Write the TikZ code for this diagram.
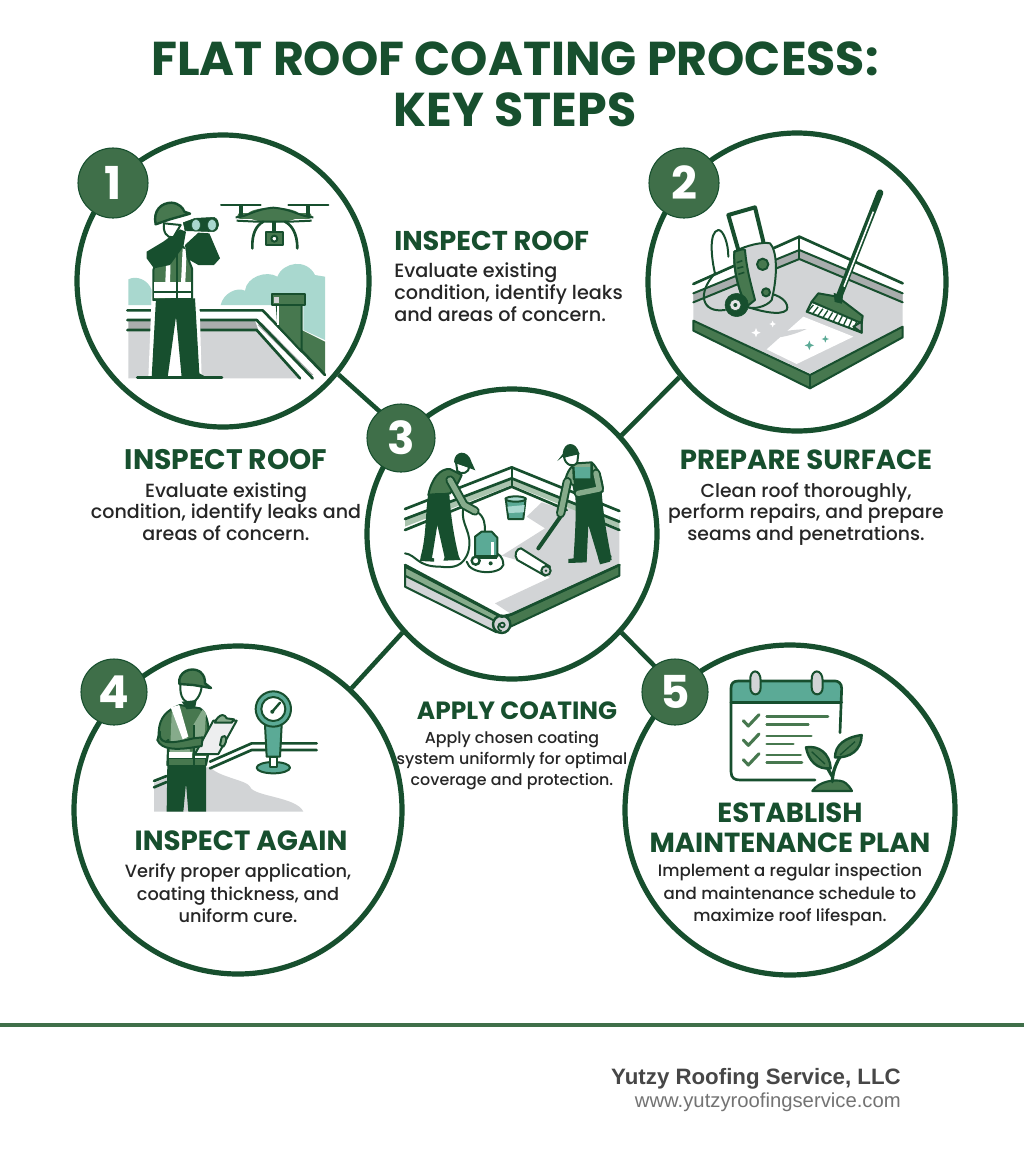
\documentclass[tikz,border=0pt]{standalone}
\usepackage{fontspec}
\setmainfont{Poppins}
\newfontfamily\bodyf{Poppins Medium}
\newfontfamily\footf{Liberation Sans}
\usetikzlibrary{calc}
\definecolor{dkg}{HTML}{174F2E}
\definecolor{mdg}{HTML}{47784F}
\definecolor{ltg}{HTML}{86AB8B}
\definecolor{bdg}{HTML}{3F6F49}
\definecolor{teal}{HTML}{5BAA96}
\definecolor{ltt}{HTML}{A9D8CF}
\definecolor{gry}{HTML}{D2D4D6}
\definecolor{mgy}{HTML}{A9ADAD}
\definecolor{sep}{HTML}{3F6F49}
\tikzset{
 ring/.style={circle,draw=dkg,line width=3.9pt,fill=white,inner sep=0pt},
 badge/.style={circle,fill=bdg,draw=dkg,line width=0.8pt,inner sep=0pt,minimum size=#1,text=white,font=\bfseries\fontsize{34}{34}\selectfont},
 link/.style={draw=dkg,line width=3.4pt},
 head/.style={text=dkg,font=\bfseries\fontsize{#1}{22}\selectfont,inner sep=0pt,text height=14pt,text depth=0pt,yshift=-0.7pt},
 body/.style={text=black!85,font=\bodyf\fontsize{#1}{16}\selectfont,inner sep=0pt,text height=10pt,text depth=3pt,yshift=-1.5pt},
 ink/.style={draw=dkg,line width=2pt,line join=round,line cap=round},
 thin/.style={draw=dkg,line width=1.5pt,line join=round,line cap=round},
 zoomed/.style={x=0.25pt,y=-0.25pt},
}
\begin{document}
\begin{tikzpicture}[x=0.75pt,y=-0.75pt]
\useasboundingbox (0,0) rectangle (1024,1154);
\fill[white] (0,0) rectangle (1024,1154);
% title
\node[text=dkg,font=\bfseries\fontsize{35.6}{36}\selectfont,inner sep=0pt] (t1) at (515,59) {FLAT ROOF COATING PROCESS:};
\node[text=dkg,font=\bfseries\fontsize{35.6}{36}\selectfont,inner sep=0pt] (t2) at (515,110) {KEY STEPS};
% rings
\node[ring,minimum size=292pt*0.75] (c1) at (223,281) {};
\node[ring,minimum size=298pt*0.75] (c2) at (797,282) {};
\node[ring,minimum size=290pt*0.75] (c3) at (512,534) {};
\node[ring,minimum size=328pt*0.75] (c4) at (238,810) {};
\node[ring,minimum size=330pt*0.75] (c5) at (790,810) {};
% links
\draw[link] (c1.-39.4) -- (c3.137);
\draw[link] (c2.219) -- (c3.42);
\draw[link] (c3.222) -- (c4.47);
\draw[link] (c3.-42) -- (c5.133);
% ILLUSTRATION 1
\begin{scope}[shift={(70,130)},zoomed]
\fill[ltt] (175,525) -- (175,448) .. controls (200,435) and (235,450) .. (245,480) -- (245,525) -- cycle;
\fill[ltt] (452,525) .. controls (460,490) and (500,470) .. (525,482) .. controls (530,440) and (590,420) .. (622,440) .. controls (640,395) and (710,385) .. (735,435) -- (765,440) -- (765,630) -- (700,600) -- (700,525) -- cycle;
\fill[gry] (175,600) -- (565,600) -- (695,745) -- (175,745) -- cycle;
\fill[mgy] (175,572) -- (555,572) -- (565,600) -- (175,600) -- cycle;
\fill[white] (172,545) rectangle (575,568);
\fill[mdg] (695,600) -- (765,635) -- (765,735) -- (695,665) -- cycle;
\fill[white] (578,541) -- (765,735) -- (728,745) -- (560,570) -- cycle;
\fill[mgy] (563,585) -- (575,578) -- (730,735) -- (715,735) -- cycle;
\draw[ink] (172,541) -- (578,541) -- (765,735);
\draw[ink] (172,570) -- (560,570) -- (728,745);
\draw[ink] (172,600) -- (560,600) -- (690,745);
\filldraw[fill=mdg,thin] (620,520) -- (695,520) -- (695,665) -- (625,590) -- cycle;
\filldraw[fill=mdg,thin] (605,493) rectangle (706,524);
\fill[gry] (612,500) rectangle (628,518);
\draw[white,line width=1.6pt] (625,527) -- (625,585);
% person
\fill[white] (245,500) -- (388,500) -- (395,745) -- (235,745) -- cycle;
\fill[dkg] (258,505) -- (375,505) -- (388,730) -- (410,742) -- (335,742) -- (318,560) -- (293,742) -- (245,742) -- cycle;
\draw[dkg,line width=2.2pt,line cap=round] (202,743) -- (456,743);
\filldraw[fill=mdg,thin] (250,420) -- (272,352) -- (340,350) -- (366,415) -- (366,505) -- (250,510) -- cycle;
\fill[white] (252,456) rectangle (364,482);
\fill[dkg] (252,482) rectangle (364,488);
\fill[white] (252,490) rectangle (364,504);
\fill[white] (290,355) -- (302,355) -- (300,480) -- (285,480) -- cycle;
\fill[white] (338,355) -- (350,360) -- (345,480) -- (332,480) -- cycle;
\draw[dkg,line width=1.5pt] (320,370) -- (320,505);
\fill[dkg] (230,365) -- (280,335) -- (330,298) -- (348,305) -- (340,350) -- (300,405) -- (252,415) -- (230,385) -- cycle;
\fill[dkg] (345,345) -- (385,308) -- (418,310) -- (450,385) -- (432,405) -- (385,405) -- (350,385) -- cycle;
\filldraw[fill=white,thin] (282,280) .. controls (278,305) and (290,325) .. (310,322) -- (332,285) -- cycle;
\filldraw[fill=mdg,draw=dkg,line width=1.8pt,line join=round] (257,283) .. controls (248,240) and (275,218) .. (305,218) .. controls (328,220) and (340,235) .. (343,245) -- (360,251) -- (300,268) -- cycle;
\filldraw[fill=dkg,draw=dkg,line join=round] (340,278) -- (375,265) -- (432,262) .. controls (452,270) and (450,300) .. (430,305) -- (345,302) -- cycle;
\filldraw[fill=ltt,draw=dkg] (378,285) ellipse (13 and 18);
\filldraw[fill=ltt,draw=dkg] (426,285) ellipse (13 and 18);
% drone
\fill[mdg] (610,255) ellipse (78 and 22);
\draw[mdg,line width=5pt,line cap=round] (512,258) -- (715,258);
\draw[dkg,line width=1.5pt,line join=round] (497,262) .. controls (530,262) and (550,238) .. (610,233) .. controls (670,238) and (695,262) .. (730,262);
\draw[dkg,line width=1.5pt] (500,272) -- (560,275) -- (660,275) -- (725,272);
\draw[dkg,line width=1.5pt,line cap=round] (453,224) -- (572,224) (655,224) -- (775,224);
\draw[dkg,line width=3pt] (512,224) -- (512,258) (715,224) -- (715,258);
\draw[dkg,line width=2pt,line cap=round] (547,355) .. controls (545,310) and (560,285) .. (580,275) (682,355) .. controls (682,310) and (665,285) .. (645,275);
\filldraw[fill=mdg,thin] (587,305) rectangle (640,346);
\filldraw[fill=white,draw=dkg,line width=1.5pt] (613,326) circle (9);
\draw[dkg,line width=2.5pt] (612,275) -- (612,305);
\end{scope}
% ILLUSTRATION 2
\begin{scope}[shift={(640,130)},zoomed]
\fill[gry] (160,570) -- (160,490) -- (478,360) -- (788,490) -- (788,590) -- (510,730) -- cycle;
\fill[white] (380,658) -- (490,560) -- (640,620) -- (470,702) -- cycle;
\fill[gry] (380,625) .. controls (420,600) and (460,600) .. (500,597) .. controls (460,615) and (420,625) .. (380,625) -- cycle;
\filldraw[fill=mdg,thin] (160,572) -- (510,735) -- (788,590) -- (788,622) -- (510,775) -- (160,602) -- cycle;
\draw[thin] (510,735) -- (510,775);
\fill[white] (160,465) -- (478,322) -- (788,462) -- (788,490) -- (478,360) -- (160,490) -- cycle;
\fill[mgy] (160,490) -- (478,360) -- (478,385) -- (160,515) -- cycle;
\fill[mgy] (478,360) -- (788,490) -- (788,515) -- (478,385) -- cycle;
\draw[ink] (160,462) -- (478,320) -- (788,460);
\draw[thin] (160,490) -- (478,360) -- (788,490);
\draw[thin] (160,517) -- (478,387) -- (788,517);
\draw[thin] (478,320) -- (478,387);
% washer
\draw[thin] (265,380) .. controls (265,340) and (250,300) .. (235,300) .. controls (205,305) and (215,390) .. (225,430) .. controls (170,490) and (185,550) .. (255,540);
\draw[thin] (375,490) .. controls (420,490) and (450,520) .. (440,540) .. controls (420,560) and (350,540) .. (320,530);
\draw[dkg,line width=3pt,line join=round,line cap=round] (295,360) -- (265,255) -- (345,232) -- (370,335);
\filldraw[fill=gry,thin] (283,365) .. controls (320,345) and (370,335) .. (390,340) .. controls (410,360) and (415,430) .. (395,510) .. controls (380,530) and (340,540) .. (320,530) .. controls (295,480) and (280,420) .. (283,365) -- cycle;
\filldraw[fill=mdg,thin] (283,365) .. controls (300,360) and (310,355) .. (315,360) .. controls (320,420) and (335,470) .. (345,510) -- (320,530) .. controls (295,480) and (280,420) .. (283,365) -- cycle;
\draw[dkg,line width=1.2pt] (290,398) -- (307,392) (292,415) -- (310,410) (295,433) -- (313,427);
\filldraw[fill=mdg,thin] (368,403) circle (17);
\filldraw[fill=mdg,thin] (378,487) circle (12);
\filldraw[fill=dkg,draw=dkg] (290,525) circle (35);
\filldraw[fill=gry!60,draw=dkg] (286,525) circle (17);
\fill[dkg] (286,525) circle (6);
% broom
\draw[dkg,line width=5pt,line cap=round] (720,188) -- (597,500);
\draw[white,line width=1.2pt] (700,245) -- (612,470);
\filldraw[fill=white,thin] (500,545) -- (515,515) -- (665,575) -- (665,608) -- cycle;
\foreach \i in {0,...,9}{\draw[dkg,line width=1pt] ($(503,545)!\i/9!(640,600)$) -- ($(520,525)!\i/9!(650,575)$);}
\filldraw[fill=mdg,thin] (515,515) -- (535,490) -- (592,500) -- (668,558) -- (665,580) -- cycle;
\filldraw[fill=dkg,draw=dkg] (582,490) -- (608,498) -- (605,520) -- (585,515) -- cycle;
\filldraw[fill=mgy,thin] (640,590) -- (665,575) -- (665,608) -- cycle;
\fill[white] (348,594) -- (352,604) -- (362,608) -- (352,612) -- (348,622) -- (344,612) -- (334,608) -- (344,604) -- cycle;
\fill[white] (398,572) -- (401,579) -- (408,582) -- (401,585) -- (398,592) -- (395,585) -- (388,582) -- (395,579) -- cycle;
\fill[teal] (508,632) -- (512,642) -- (522,646) -- (512,650) -- (508,660) -- (504,650) -- (494,646) -- (504,642) -- cycle;
\fill[teal] (556,616) -- (559,624) -- (567,627) -- (559,630) -- (556,638) -- (553,630) -- (545,627) -- (553,624) -- cycle;
\end{scope}
% ILLUSTRATION 3
\begin{scope}[shift={(360,385)},zoomed]
\fill[gry] (500,395) -- (545,352) -- (615,375) -- (640,360) -- (778,440) -- (778,540) -- (455,688) -- (405,655) -- (570,578) -- (470,525) -- (425,512) -- (555,430) -- cycle;
% back wall
\fill[ltg!70] (135,385) -- (455,262) -- (778,395) -- (778,430) -- (455,300) -- (135,425) -- cycle;
\fill[white] (135,380) -- (455,255) -- (778,388) -- (778,405) -- (455,278) -- (135,398) -- cycle;
\draw[ink] (135,372) -- (455,247) -- (778,378);
\draw[ink] (135,402) -- (455,280) -- (778,410);
\draw[ink] (135,435) -- (455,305) -- (620,375) (730,415) -- (778,435);
\draw[thin] (455,247) -- (455,305);
% front roll
\filldraw[fill=gry,thin] (135,570) -- (405,705) -- (410,742) -- (135,605) -- cycle;
\filldraw[fill=ltg,thin] (135,545) -- (415,692) -- (405,708) -- (135,572) -- cycle;
\filldraw[fill=mdg,thin] (440,695) -- (778,540) -- (778,572) -- (445,728) -- cycle;
\filldraw[fill=gry,draw=dkg,line width=1.8pt] (425,718) circle (26);
\draw[dkg,line width=1.3pt] (420,720) arc (180:-90:7) arc (-90:-260:13);
\draw[ink] (135,540) -- (425,695) -- (455,688) -- (778,540);
% bucket
\filldraw[fill=teal,thin] (437,340) -- (497,340) -- (490,402) -- (445,402) -- cycle;
\fill[ltt] (442,365) -- (494,360) -- (491,382) -- (446,384) -- cycle;
\filldraw[fill=ltt,thin] (467,342) ellipse (30 and 8);
% vacuum & hoses
\draw[thin] (135,505) .. controls (170,510) and (170,545) .. (240,545) .. controls (280,550) and (310,545) .. (325,500) .. controls (340,440) and (300,420) .. (310,370);
\draw[thin] (350,380) .. controls (375,395) and (375,420) .. (375,440);
\draw[thin] (320,530) .. controls (330,570) and (420,570) .. (430,540) .. controls (430,515) and (415,505) .. (405,505);
\filldraw[fill=teal,thin] (345,455) -- (365,440) -- (395,440) -- (412,458) -- (412,515) -- (345,515) -- cycle;
\fill[white] (392,470) rectangle (402,510);
\fill[dkg] (345,510) rectangle (412,522);
\filldraw[fill=white,draw=dkg,line width=1.8pt] (347,527) circle (12);
\fill[dkg] (392,535) circle (6);
% left worker
\fill[dkg] (205,325) -- (268,325) .. controls (272,400) and (285,470) .. (298,520) -- (255,522) -- (232,420) -- (215,525) -- (182,515) .. controls (200,450) and (195,390) .. (205,325) -- cycle;
\filldraw[fill=mdg,thin] (205,330) .. controls (215,280) and (240,250) .. (270,252) -- (305,270) .. controls (295,295) and (285,310) .. (270,325) .. controls (250,330) and (225,325) .. (205,330) -- cycle;
\draw[dkg,line width=7pt,line cap=round,line join=round] (270,285) -- (312,360) -- (345,378);
\draw[ltg,line width=4pt,line cap=round,line join=round] (270,285) -- (312,360) -- (345,378);
\filldraw[fill=white,thin] (288,232) -- (328,245) .. controls (328,262) and (305,272) .. (292,258) -- cycle;
\fill[dkg] (282,232) .. controls (282,195) and (325,192) .. (335,232) -- (346,256) -- cycle;
\fill[dkg] (182,515) -- (222,520) -- (222,530) -- (180,528) -- cycle;
\fill[dkg] (255,515) -- (295,512) -- (302,525) -- (250,527) -- cycle;
% roller
\draw[dkg,line width=3pt,line cap=round] (605,390) -- (535,490);
\filldraw[fill=white,thin] (483,490) -- (570,545) -- (555,572) -- (472,525) .. controls (460,510) and (470,490) .. (483,490) -- cycle;
\filldraw[fill=gry,thin] (558,557) circle (14);
\fill[dkg] (558,557) circle (4);
% right worker
\fill[dkg] (645,320) -- (725,318) .. controls (730,400) and (745,470) .. (755,525) -- (718,530) -- (685,420) -- (680,528) -- (640,528) .. controls (645,450) and (650,380) .. (645,320) -- cycle;
\filldraw[fill=ltg,thin] (615,290) .. controls (620,260) and (635,240) .. (650,235) -- (695,232) .. controls (715,250) and (730,290) .. (728,320) -- (645,325) -- (640,300) -- cycle;
\fill[teal] (640,245) rectangle (692,282);
\fill[dkg] (640,280) -- (700,280) -- (708,325) -- (645,325) -- cycle;
\draw[dkg,line width=1.8pt] (640,245) -- (642,285) (695,232) -- (695,285);
\draw[dkg,line width=7pt,line cap=round,line join=round] (622,290) -- (602,385);
\draw[ltg,line width=4pt,line cap=round,line join=round] (622,290) -- (602,385);
\draw[dkg,line width=7pt,line cap=round,line join=round] (708,265) -- (718,312) -- (655,325);
\draw[ltg,line width=4pt,line cap=round,line join=round] (708,265) -- (718,312) -- (655,325);
\filldraw[fill=white,thin] (612,215) .. controls (615,240) and (640,250) .. (652,232) -- (655,205) -- cycle;
\fill[dkg] (608,207) .. controls (610,168) and (650,166) .. (658,207) -- (610,214) -- (592,228) -- cycle;
\fill[dkg] (625,522) -- (680,515) -- (680,532) -- (625,534) -- cycle;
\fill[dkg] (715,520) -- (755,512) -- (750,530) -- (720,538) -- cycle;
\end{scope}
% ILLUSTRATION 4
\begin{scope}[shift={(80,650)},zoomed]
\fill[gry] (222,400) -- (265,380) -- (390,350) .. controls (410,380) and (500,390) .. (510,410) .. controls (520,440) and (650,440) .. (670,485) -- (222,485) -- cycle;
\draw[ink] (222,393) -- (260,378);
\draw[ink] (222,412) -- (260,396);
\draw[ink] (390,335) -- (515,280) -- (710,280);
\draw[ink] (390,355) -- (515,300) -- (710,300);
\fill[dkg] (262,340) -- (378,340) -- (378,485) -- (325,485) -- (318,400) -- (310,485) -- (260,485) -- cycle;
\filldraw[fill=mdg,thin] (238,230) .. controls (245,190) and (275,175) .. (300,165) -- (360,175) .. controls (385,190) and (390,240) .. (385,310) -- (378,345) -- (262,345) -- (265,270) .. controls (245,290) and (230,280) .. (238,230) -- cycle;
\fill[ltg] (275,190) -- (298,170) -- (320,255) -- (330,305) -- (345,305) -- (340,225) -- (368,178) -- (378,190) -- (370,310) -- (270,310) -- cycle;
\fill[white] (272,172) -- (298,165) -- (325,260) -- (308,268) -- cycle;
\fill[white] (268,306) rectangle (336,323);
\fill[white] (345,318) rectangle (378,330);
\fill[dkg] (262,323) rectangle (378,345);
\fill[mdg] (268,328) rectangle (375,345);
\draw[dkg,line width=1.5pt] (342,225) -- (342,345);
\filldraw[fill=white,thin] (302,95) -- (365,105) .. controls (365,135) and (345,160) .. (330,158) .. controls (305,155) and (298,130) .. (302,95) -- cycle;
\fill[dkg] (305,155) -- (350,150) -- (345,175) -- (320,178) -- cycle;
\filldraw[fill=mdg,draw=dkg,line width=1.8pt,line join=round] (298,102) .. controls (292,65) and (335,48) .. (360,65) .. controls (372,75) and (375,85) .. (375,100) -- (393,114) -- (340,105) -- cycle;
\filldraw[fill=gry!40,thin] (400,212) -- (470,212) -- (415,312) -- (345,312) -- cycle;
\filldraw[fill=ltg,thin] (408,210) .. controls (415,200) and (425,190) .. (435,198) -- (440,205) -- (462,208) -- (455,218) -- (405,218) -- cycle;
\filldraw[fill=mdg,thin] (240,245) .. controls (235,280) and (260,285) .. (340,265) -- (368,262) -- (365,288) -- (340,292) .. controls (290,300) and (245,300) .. (232,270) -- cycle;
\filldraw[fill=ltg,thin] (425,262) .. controls (440,250) and (445,270) .. (430,290) -- (420,285) -- cycle;
% gauge
\filldraw[fill=teal,thin] (580,353) ellipse (50 and 17);
\filldraw[fill=white,thin] (570,322) rectangle (590,352);
\filldraw[fill=teal,thin] (555,225) -- (605,225) -- (600,320) -- (560,320) -- cycle;
\filldraw[fill=teal,thin] (580,177) circle (53);
\filldraw[fill=white,thin] (580,177) circle (36);
\draw[dkg,line width=1.8pt,line cap=round] (575,187) -- (600,158);
\fill[dkg] (577,185) circle (6);
\end{scope}
% ILLUSTRATION 5
\begin{scope}[shift={(640,650)},zoomed]
\fill[teal] (273,155) -- (273,110) .. controls (273,95) and (285,93) .. (295,93) -- (585,93) .. controls (600,93) and (605,105) .. (605,115) -- (605,155) -- cycle;
\draw[ink] (600,248) -- (605,115) .. controls (605,100) and (595,93) .. (585,93) -- (295,93) .. controls (280,93) and (273,100) .. (273,115) -- (273,365) .. controls (273,385) and (285,390) .. (300,390) -- (525,390);
\draw[ink] (273,157) -- (605,157);
\filldraw[fill=gry,thin] (331,92) .. controls (328,55) and (362,55) .. (362,92) -- (362,112) .. controls (362,140) and (331,140) .. (331,112) -- cycle;
\filldraw[fill=gry,thin] (515,92) .. controls (512,55) and (548,55) .. (548,92) -- (548,112) .. controls (548,140) and (515,140) .. (515,112) -- cycle;
\foreach \yy in {0,58,117}{
\draw[mdg,line width=2.3pt,line join=round,line cap=round] (310,\yy+212) -- (325,\yy+228) -- (357,\yy+194);
}
\tikzset{chk/.style={draw=mdg,line width=2pt,line cap=round}}
\draw[chk] (380,200) -- (564,200);
\draw[chk] (380,224) -- (505,224);
\draw[chk] (380,258) -- (514,258);
\draw[chk] (380,282) -- (460,282);
\draw[chk] (380,315) -- (482,315);
\draw[chk] (380,338) -- (486,338);
\filldraw[fill=mdg,draw=dkg,line width=1.6pt,line join=round] (517,423) .. controls (535,395) and (585,385) .. (610,395) .. controls (622,400) and (632,415) .. (636,423) -- cycle;
\draw[dkg,line width=2.4pt,line cap=round] (577,395) .. controls (578,360) and (590,340) .. (600,320);
\draw[dkg,line width=2.4pt,line cap=round] (577,380) -- (560,350);
\filldraw[fill=mdg,draw=dkg,line width=1.8pt,line join=round] (498,292) .. controls (535,285) and (570,310) .. (572,355) .. controls (530,360) and (505,330) .. (498,292) -- cycle;
\filldraw[fill=mdg,draw=dkg,line width=1.8pt,line join=round] (665,255) .. controls (615,262) and (585,285) .. (585,322) .. controls (630,325) and (665,300) .. (665,255) -- cycle;
\draw[dkg,line width=1pt] (515,305) -- (555,342) (645,275) -- (600,315);
\end{scope}
% badges
\node[badge=52.5pt] (b1) at (113,183) {1};
\node[badge=52.5pt] (b2) at (684,183) {2};
\node[badge=51pt] (b3) at (401,438) {3};
\node[badge=49.5pt] (b4) at (114,692) {4};
\node[badge=49.5pt] (b5) at (675,692) {5};
% labels
\node[head=20.4,anchor=west] (h1) at (394,240) {INSPECT ROOF};
\node[body=14.4,anchor=west] (p1a) at (394,271) {Evaluate existing};
\node[body=14.4,anchor=west] (p1b) at (394,293) {condition, identify leaks};
\node[body=14.4,anchor=west] (p1c) at (394,315) {and areas of concern.};
\node[head=21.2] (h2) at (226,459) {INSPECT ROOF};
\node[body=14.3] (p2a) at (226,491) {Evaluate existing};
\node[body=14.3] (p2b) at (226,512) {condition, identify leaks and};
\node[body=14.3] (p2c) at (226,534) {areas of concern.};
\node[head=20.7] (h3) at (806,459) {PREPARE SURFACE};
\node[body=14.1] (p3a) at (806,491) {Clean roof thoroughly,};
\node[body=14.1] (p3b) at (806,512) {perform repairs, and prepare};
\node[body=14.1] (p3c) at (806,534) {seams and penetrations.};
\node[head=18.7] (h4) at (517,709) {APPLY COATING};
\node[body=11.9] (p4a) at (512,737) {Apply chosen coating};
\node[body=11.9] (p4b) at (512,758) {system uniformly for optimal};
\node[body=11.9] (p4c) at (512,779) {coverage and protection.};
\node[head=20.8] (h5) at (241,840) {INSPECT AGAIN};
\node[body=13.3] (p5a) at (238,871) {Verify proper application,};
\node[body=13.3] (p5b) at (238,894) {coating thickness, and};
\node[body=13.3] (p5c) at (238,916) {uniform cure.};
\node[head=20.7] (h6) at (790,812) {ESTABLISH};
\node[head=20.7] (h6b) at (790,842) {MAINTENANCE PLAN};
\node[body=12.45] (p6a) at (790,870) {Implement a regular inspection};
\node[body=12.45] (p6b) at (790,893) {and maintenance schedule to};
\node[body=12.45] (p6c) at (790,915) {maximize roof lifespan.};
% footer
\coordinate (sl) at (0,1025);
\coordinate (sr) at (1024,1025);
\draw[sep,line width=2.3pt] (sl) -- (sr);
\node[anchor=east,inner sep=0pt,text=black!72,font=\footf\bfseries\fontsize{16.7}{20}\selectfont] (f1) at (901,1079) {Yutzy Roofing Service, LLC};
\node[anchor=east,inner sep=0pt,text=black!55,font=\footf\fontsize{15.2}{17}\selectfont] (f2) at (901,1102) {www.yutzyroofingservice.com};
\end{tikzpicture}
\end{document}
